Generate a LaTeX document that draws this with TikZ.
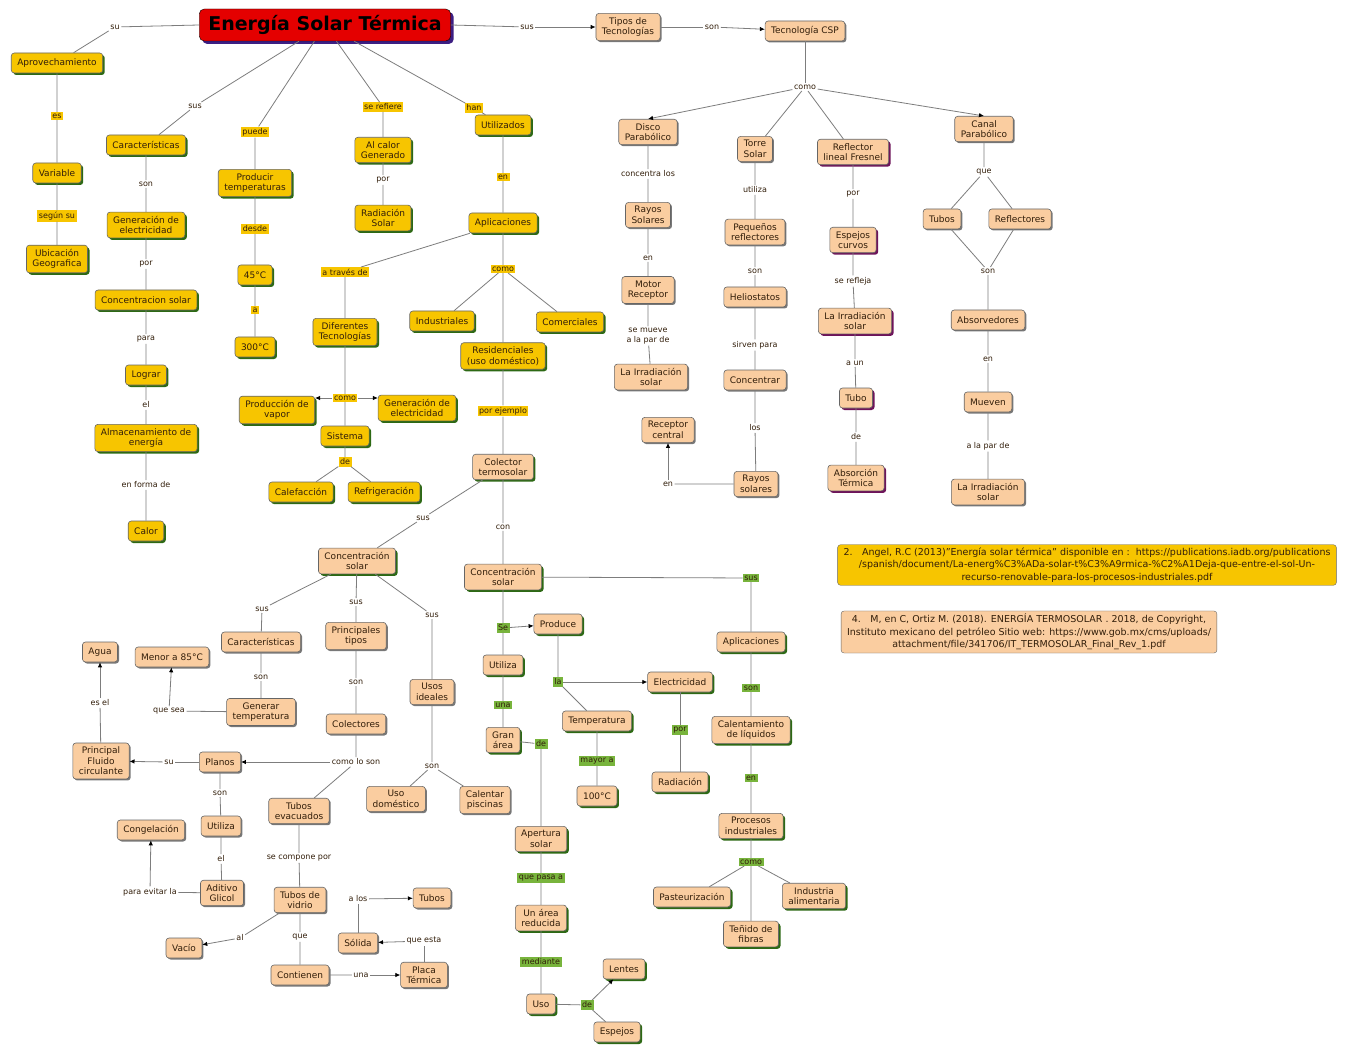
\documentclass[tikz,border=0pt]{standalone}
\usepackage{fontspec}
\setmainfont{DejaVu Sans}
\usetikzlibrary{arrows.meta,shadows}
\definecolor{cmyellow}{RGB}{247,197,0}
\definecolor{cmpeach}{RGB}{250,205,160}
\definecolor{cmred}{RGB}{228,0,0}
\definecolor{cmgreen}{RGB}{120,180,60}
\definecolor{shgreen}{RGB}{45,105,20}
\definecolor{shpurple}{RGB}{110,20,90}
\definecolor{shgray}{RGB}{120,120,120}
\definecolor{shblue}{RGB}{60,30,130}
\definecolor{cmline}{RGB}{125,125,125}
\definecolor{cmtext}{RGB}{50,30,10}
\tikzset{
  box/.style={rectangle, rounded corners=3pt, draw=black!60, line width=0.6pt, align=center, text=cmtext, font=\fontsize{9}{10.5}\selectfont, inner xsep=6pt, inner ysep=4pt, minimum height=20pt},
  yc/.style={box, fill=cmyellow, drop shadow={shadow xshift=2pt, shadow yshift=-2pt, fill=shgreen, opacity=1}},
  pc/.style={box, fill=cmpeach, drop shadow={shadow xshift=1.5pt, shadow yshift=-1.5pt, fill=shgray, opacity=1}},
  pcp/.style={box, fill=cmpeach, drop shadow={shadow xshift=2pt, shadow yshift=-2pt, fill=shpurple, opacity=1}},
  pcg/.style={box, fill=cmpeach, drop shadow={shadow xshift=2pt, shadow yshift=-2pt, fill=shgreen, opacity=1}},
  titlebox/.style={rectangle, rounded corners=5pt, draw=black, fill=cmred, font=\fontsize{19}{22}\selectfont\bfseries, inner xsep=9pt, minimum height=32pt, drop shadow={shadow xshift=3pt, shadow yshift=-3pt, fill=shblue, opacity=1}},
  refbox/.style={rectangle, rounded corners=3pt, draw=black!60, align=center, text=cmtext, font=\fontsize{9.5}{12.5}\selectfont, inner xsep=6pt, inner ysep=3pt},
  lk/.style={font=\fontsize{8}{9.5}\selectfont, text=cmtext, align=center, inner sep=1.5pt},
  lky/.style={lk, fill=cmyellow},
  lkg/.style={lk, fill=cmgreen},
  ln/.style={draw=cmline, line width=0.8pt},
  arr/.style={ln, -{Latex[length=5pt, width=4.5pt, color=black]}}
}
\begin{document}
\begin{tikzpicture}[x=1pt, y=-1pt]
        \fill[white] (0, 0) rectangle (1354, 1048);
        \useasboundingbox (0, 0) rectangle (1354, 1048);
        \node[titlebox] at (325, 25) (title) {Energía Solar Térmica};
        \node[yc] at (57, 63) (aprov) {Aprovechamiento};
        \node[yc] at (57, 173) (variable) {Variable};
        \node[yc] at (57, 259) (ubic) {Ubicación\\Geografica};
        \node[yc] at (146, 145) (caract) {Características};
        \node[yc] at (146, 225) (genelec) {Generación de\\electricidad};
        \node[yc] at (146, 300) (concsol) {Concentracion solar};
        \node[yc] at (146, 375) (lograr) {Lograr};
        \node[yc] at (146, 438) (almac) {Almacenamiento de\\energía};
        \node[yc] at (146, 531) (calor) {Calor};
        \node[yc] at (255, 183) (producir) {Producir\\temperaturas};
        \node[yc] at (255, 275) (t45) {45°C};
        \node[yc] at (255, 347) (t300) {300°C};
        \node[yc] at (383, 150) (alcalor) {Al calor\\Generado};
        \node[yc] at (383, 218) (radsolar) {Radiación\\Solar};
        \node[yc] at (503, 125) (utiliz) {Utilizados};
        \node[yc] at (503, 223) (aplic) {Aplicaciones};
        \node[yc] at (345, 332) (diftec) {Diferentes\\Tecnologías};
        \node[yc] at (277, 410) (prodvapor) {Producción de\\vapor};
        \node[yc] at (417, 408) (genelec2) {Generación de\\electricidad};
        \node[yc] at (345, 436) (sistema) {Sistema};
        \node[yc] at (301, 492) (calef) {Calefacción};
        \node[yc] at (384, 492) (refrig) {Refrigeración};
        \node[yc] at (442, 321) (indus) {Industriales};
        \node[yc] at (570, 322) (comerc) {Comerciales};
        \node[yc] at (503, 356) (resid) {Residenciales\\(uso doméstico)};
        \node[lk] at (115, 27) (l_su) {su};
        \node[lky] at (57, 116) (l_es) {es};
        \node[lky] at (57, 216) (l_segun) {según su};
        \node[lk] at (195, 106) (l_sus1) {sus};
        \node[lk] at (146, 184) (l_son1) {son};
        \node[lk] at (146, 264) (l_por1) {por};
        \node[lk] at (146, 339) (l_para) {para};
        \node[lk] at (146, 405) (l_el) {el};
        \node[lk] at (146, 485) (l_forma) {en forma de};
        \node[lky] at (255, 132) (l_puede) {puede};
        \node[lky] at (255, 229) (l_desde) {desde};
        \node[lky] at (255, 310) (l_a) {a};
        \node[lky] at (383, 107) (l_serefiere) {se refiere};
        \node[lk] at (383, 180) (l_por2) {por};
        \node[lky] at (474, 108) (l_han) {han};
        \node[lky] at (503, 177) (l_en) {en};
        \node[lky] at (345, 272) (l_traves) {a través de};
        \node[lky] at (503, 269) (l_como1) {como};
        \node[lky] at (345, 398) (l_como2) {como};
        \node[lky] at (345, 462) (l_de1) {de};
        \node[lky] at (503, 411) (l_ejemplo) {por ejemplo};
        \node[pc] at (628, 27) (tipos) {Tipos de\\Tecnologías};
        \node[pc] at (805, 31) (csp) {Tecnología CSP};
        \node[pc] at (648, 132) (disco) {Disco\\Parabólico};
        \node[pc] at (755, 149) (torre) {Torre\\Solar};
        \node[pcp] at (853, 152) (fresnel) {Reflector\\lineal Fresnel};
        \node[pc] at (984, 129) (canal) {Canal\\Parabólico};
        \node[pc] at (648, 215) (rayos1) {Rayos\\Solares};
        \node[pc] at (648, 290) (motor) {Motor\\Receptor};
        \node[pc] at (651, 377) (irrad1) {La Irradiación\\solar};
        \node[pc] at (668, 430) (receptor) {Receptor\\central};
        \node[pc] at (755, 232) (pequenos) {Pequeños\\reflectores};
        \node[pc] at (755, 297) (helios) {Heliostatos};
        \node[pc] at (755, 380) (concentrar) {Concentrar};
        \node[pc] at (756, 484) (rayos2) {Rayos\\solares};
        \node[pcp] at (853, 240) (espejos) {Espejos\\curvos};
        \node[pcp] at (855, 321) (irrad2) {La Irradiación\\solar};
        \node[pcp] at (856, 398) (tubo) {Tubo};
        \node[pcp] at (856, 478) (absorc) {Absorción\\Térmica};
        \node[pc] at (942, 219) (tubos1) {Tubos};
        \node[pc] at (1020, 219) (reflect) {Reflectores};
        \node[pc] at (988, 320) (absorv) {Absorvedores};
        \node[pc] at (988, 402) (mueven) {Mueven};
        \node[pc] at (988, 492) (irrad3) {La Irradiación\\solar};
        \node[lk] at (527, 27) (l_sus2) {sus};
        \node[lk] at (712, 27) (l_son2) {son};
        \node[lk] at (805, 87) (l_como3) {como};
        \node[lk] at (648, 174) (l_concentra) {concentra los};
        \node[lk] at (648, 258) (l_en2) {en};
        \node[lk] at (648, 336) (l_mueve) {se mueve\\a la par de};
        \node[lk] at (668, 484) (l_en3) {en};
        \node[lk] at (755, 190) (l_utiliza) {utiliza};
        \node[lk] at (755, 271) (l_son3) {son};
        \node[lk] at (755, 345) (l_sirven) {sirven para};
        \node[lk] at (755, 428) (l_los) {los};
        \node[lk] at (853, 194) (l_por3) {por};
        \node[lk] at (853, 281) (l_refleja) {se refleja};
        \node[lk] at (855, 363) (l_aun) {a un};
        \node[lk] at (856, 437) (l_de2) {de};
        \node[lk] at (984, 172) (l_que1) {que};
        \node[lk] at (988, 271) (l_son4) {son};
        \node[lk] at (988, 359) (l_en4) {en};
        \node[lk] at (988, 446) (l_alapar) {a la par de};
        \node[pcg] at (503, 467) (colector) {Colector\\termosolar};
        \node[pcg] at (357, 561) (conc1) {Concentración\\solar};
        \node[pcg] at (503, 577) (conc2) {Concentración\\solar};
        \node[pcg] at (558, 624) (produce) {Produce};
        \node[pcg] at (503, 665) (utiliza) {Utiliza};
        \node[pcg] at (503, 740) (granarea) {Gran\\área};
        \node[pcg] at (541, 839) (apertura) {Apertura\\solar};
        \node[pcg] at (541, 918) (reducida) {Un área\\reducida};
        \node[pcg] at (541, 1004) (uso) {Uso};
        \node[pcg] at (624, 969) (lentes) {Lentes};
        \node[pcg] at (617, 1032) (espejos2) {Espejos};
        \node[pcg] at (680, 682) (electric) {Electricidad};
        \node[pcg] at (597, 721) (temper) {Temperatura};
        \node[pcg] at (597, 796) (t100) {100°C};
        \node[pcg] at (680, 782) (radiacion) {Radiación};
        \node[pcg] at (751, 642) (aplic2) {Aplicaciones};
        \node[pcg] at (751, 730) (calent) {Calentamiento\\de líquidos};
        \node[pcg] at (751, 826) (procesos) {Procesos\\industriales};
        \node[pcg] at (692, 897) (pasteur) {Pasteurización};
        \node[pcg] at (751, 934) (tenido) {Teñido de\\fibras};
        \node[pcg] at (814, 896) (alimen) {Industria\\alimentaria};
        \node[lk] at (423, 518) (l_sus3) {sus};
        \node[lk] at (503, 527) (l_con) {con};
        \node[lkg] at (503, 628) (g_se) {Se};
        \node[lkg] at (503, 705) (g_una) {una};
        \node[lkg] at (541, 744) (g_de1) {de};
        \node[lkg] at (541, 878) (g_pasa) {que pasa a};
        \node[lkg] at (541, 962) (g_mediante) {mediante};
        \node[lkg] at (587, 1005) (g_de2) {de};
        \node[lkg] at (558, 682) (g_la) {la};
        \node[lkg] at (597, 761) (g_mayor) {mayor a};
        \node[lkg] at (680, 730) (g_por) {por};
        \node[lkg] at (751, 578) (g_sus) {sus};
        \node[lkg] at (751, 688) (g_son) {son};
        \node[lkg] at (751, 778) (g_en) {en};
        \node[lkg] at (751, 862) (g_como) {como};
        \node[pc] at (261, 642) (caract2) {Características};
        \node[pc] at (261, 712) (generar) {Generar\\temperatura};
        \node[pc] at (172, 657) (menor) {Menor a 85°C};
        \node[pc] at (356, 636) (principales) {Principales\\tipos};
        \node[pc] at (356, 724) (colectores) {Colectores};
        \node[pc] at (432, 692) (usos) {Usos\\ideales};
        \node[pc] at (396, 799) (usodom) {Uso\\doméstico};
        \node[pc] at (485, 800) (piscinas) {Calentar\\piscinas};
        \node[pc] at (220, 762) (planos) {Planos};
        \node[pc] at (101, 761) (principal) {Principal\\Fluido\\circulante};
        \node[pc] at (100, 652) (agua) {Agua};
        \node[pc] at (221, 826) (utiliza2) {Utiliza};
        \node[pc] at (222, 893) (aditivo) {Aditivo\\Glicol};
        \node[pc] at (151, 830) (congel) {Congelación};
        \node[pc] at (299, 811) (tubosev) {Tubos\\evacuados};
        \node[pc] at (300, 900) (tubosvid) {Tubos de\\vidrio};
        \node[pc] at (184, 948) (vacio) {Vacío};
        \node[pc] at (300, 975) (contienen) {Contienen};
        \node[pc] at (424, 975) (placa) {Placa\\Térmica};
        \node[pc] at (358, 943) (solida) {Sólida};
        \node[pc] at (432, 898) (tubos2) {Tubos};
        \node[lk] at (262, 609) (l_sus4) {sus};
        \node[lk] at (261, 677) (l_son5) {son};
        \node[lk] at (169, 711) (l_quesea) {que sea};
        \node[lk] at (356, 602) (l_sus5) {sus};
        \node[lk] at (356, 682) (l_son6) {son};
        \node[lk] at (356, 762) (l_comolo) {como lo son};
        \node[lk] at (432, 615) (l_sus6) {sus};
        \node[lk] at (432, 766) (l_son7) {son};
        \node[lk] at (169, 762) (l_su2) {su};
        \node[lk] at (100, 703) (l_esel) {es el};
        \node[lk] at (220, 793) (l_son8) {son};
        \node[lk] at (221, 859) (l_el2) {el};
        \node[lk] at (150, 892) (l_evitar) {para evitar la};
        \node[lk] at (299, 858) (l_compone) {se compone por};
        \node[lk] at (240, 938) (l_al) {al};
        \node[lk] at (300, 937) (l_que2) {que};
        \node[lk] at (361, 975) (l_una) {una};
        \node[lk] at (424, 941) (l_queesta) {que esta};
        \node[lk] at (358, 899) (l_alos) {a los};
        \node[refbox, fill=cmyellow] at (1087, 565) (ref1) {2.\quad Angel, R.C (2013)"Energía solar térmica" disponible en :\ \ https://publications.iadb.org/publications\\/spanish/document/La-energ\%C3\%ADa-solar-t\%C3\%A9rmica-\%C2\%A1Deja-que-entre-el-sol-Un-\\recurso-renovable-para-los-procesos-industriales.pdf};
        \node[refbox, fill=cmpeach] at (1029, 632) (ref2) {4.\quad M, en C, Ortiz M. (2018). ENERGÍA TERMOSOLAR . 2018, de Copyright,\\Instituto mexicano del petróleo Sitio web: https://www.gob.mx/cms/uploads/\\attachment/file/341706/IT\_TERMOSOLAR\_Final\_Rev\_1.pdf};
        \draw[ln] (title.west) -- (l_su) -- (aprov) -- (l_es) -- (variable) -- (l_segun) -- (ubic);
        \draw[ln] (title) -- (l_sus1) -- (caract) -- (l_son1) -- (genelec) -- (l_por1) -- (concsol) -- (l_para) -- (lograr) -- (l_el) -- (almac) -- (l_forma) -- (calor);
        \draw[ln] (title) -- (l_puede) -- (producir) -- (l_desde) -- (t45) -- (l_a) -- (t300);
        \draw[ln] (title) -- (l_serefiere) -- (alcalor) -- (l_por2) -- (radsolar);
        \draw[ln] (title) -- (l_han) -- (utiliz) -- (l_en) -- (aplic) -- (l_como1) -- (resid) -- (l_ejemplo) -- (colector) -- (l_con) -- (conc2);
        \draw[ln] (l_como1) -- (indus);
        \draw[ln] (l_como1) -- (comerc);
        \draw[ln] (aplic) -- (l_traves) -- (diftec) -- (l_como2) -- (sistema) -- (l_de1) -- (calef);
        \draw[ln] (l_de1) -- (refrig);
        \draw[arr] (l_como2.west) -- (l_como2.west -| prodvapor.east);
        \draw[arr] (l_como2.east) -- (l_como2.east -| genelec2.west);
        \draw[ln] (title.east) -- (l_sus2);
        \draw[arr] (l_sus2) -- (tipos);
        \draw[ln] (tipos) -- (l_son2);
        \draw[arr] (l_son2) -- (csp);
        \draw[ln] (csp) -- (l_como3);
        \draw[arr] (l_como3) -- (disco.north);
        \draw[ln] (l_como3) -- (torre);
        \draw[ln] (l_como3) -- (fresnel);
        \draw[arr] (l_como3) -- (canal.north);
        \draw[ln] (disco) -- (l_concentra) -- (rayos1) -- (l_en2) -- (motor) -- (l_mueve) -- (irrad1);
        \draw[ln] (torre) -- (l_utiliza) -- (pequenos) -- (l_son3) -- (helios) -- (l_sirven) -- (concentrar) -- (l_los) -- (rayos2) -- (l_en3);
        \draw[arr] (l_en3) -- (receptor);
        \draw[ln] (fresnel) -- (l_por3) -- (espejos) -- (l_refleja) -- (irrad2) -- (l_aun) -- (tubo) -- (l_de2) -- (absorc);
        \draw[ln] (canal) -- (l_que1) -- (tubos1) -- (l_son4) -- (absorv) -- (l_en4) -- (mueven) -- (l_alapar) -- (irrad3);
        \draw[ln] (l_que1) -- (reflect) -- (l_son4);
        \draw[ln] (colector) -- (l_sus3) -- (conc1);
        \draw[ln] (conc1) -- (l_sus4) -- (caract2) -- (l_son5) -- (generar) -- (l_quesea);
        \draw[arr] (l_quesea) -- (menor);
        \draw[ln] (conc1) -- (l_sus5) -- (principales) -- (l_son6) -- (colectores) -- (l_comolo) -- (tubosev);
        \draw[arr] (l_comolo) -- (planos);
        \draw[ln] (conc1) -- (l_sus6) -- (usos) -- (l_son7) -- (usodom);
        \draw[ln] (l_son7) -- (piscinas);
        \draw[ln] (planos) -- (l_su2);
        \draw[arr] (l_su2) -- (principal);
        \draw[ln] (principal) -- (l_esel);
        \draw[arr] (l_esel) -- (agua);
        \draw[ln] (planos) -- (l_son8) -- (utiliza2) -- (l_el2) -- (aditivo) -- (l_evitar);
        \draw[arr] (l_evitar) -- (congel);
        \draw[ln] (tubosev) -- (l_compone) -- (tubosvid) -- (l_que2) -- (contienen) -- (l_una);
        \draw[arr] (l_una) -- (placa);
        \draw[ln] (tubosvid) -- (l_al);
        \draw[arr] (l_al) -- (vacio);
        \draw[ln] (placa) -- (l_queesta);
        \draw[arr] (l_queesta) -- (solida);
        \draw[ln] (solida) -- (l_alos);
        \draw[arr] (l_alos) -- (tubos2);
        \draw[ln] (conc2) -- (g_se) -- (utiliza) -- (g_una) -- (granarea) -- (g_de1) -- (apertura) -- (g_pasa) -- (reducida) -- (g_mediante) -- (uso) -- (g_de2) -- (espejos2);
        \draw[arr] (g_se) -- (produce);
        \draw[arr] (g_de2) -- (lentes);
        \draw[ln] (produce) -- (g_la) -- (temper) -- (g_mayor) -- (t100);
        \draw[arr] (g_la) -- (electric);
        \draw[ln] (electric) -- (g_por) -- (radiacion);
        \draw[ln] (conc2) -- (g_sus) -- (aplic2) -- (g_son) -- (calent) -- (g_en) -- (procesos) -- (g_como) -- (tenido);
        \draw[ln] (g_como) -- (pasteur);
        \draw[ln] (g_como) -- (alimen);
\end{tikzpicture}
\end{document}
